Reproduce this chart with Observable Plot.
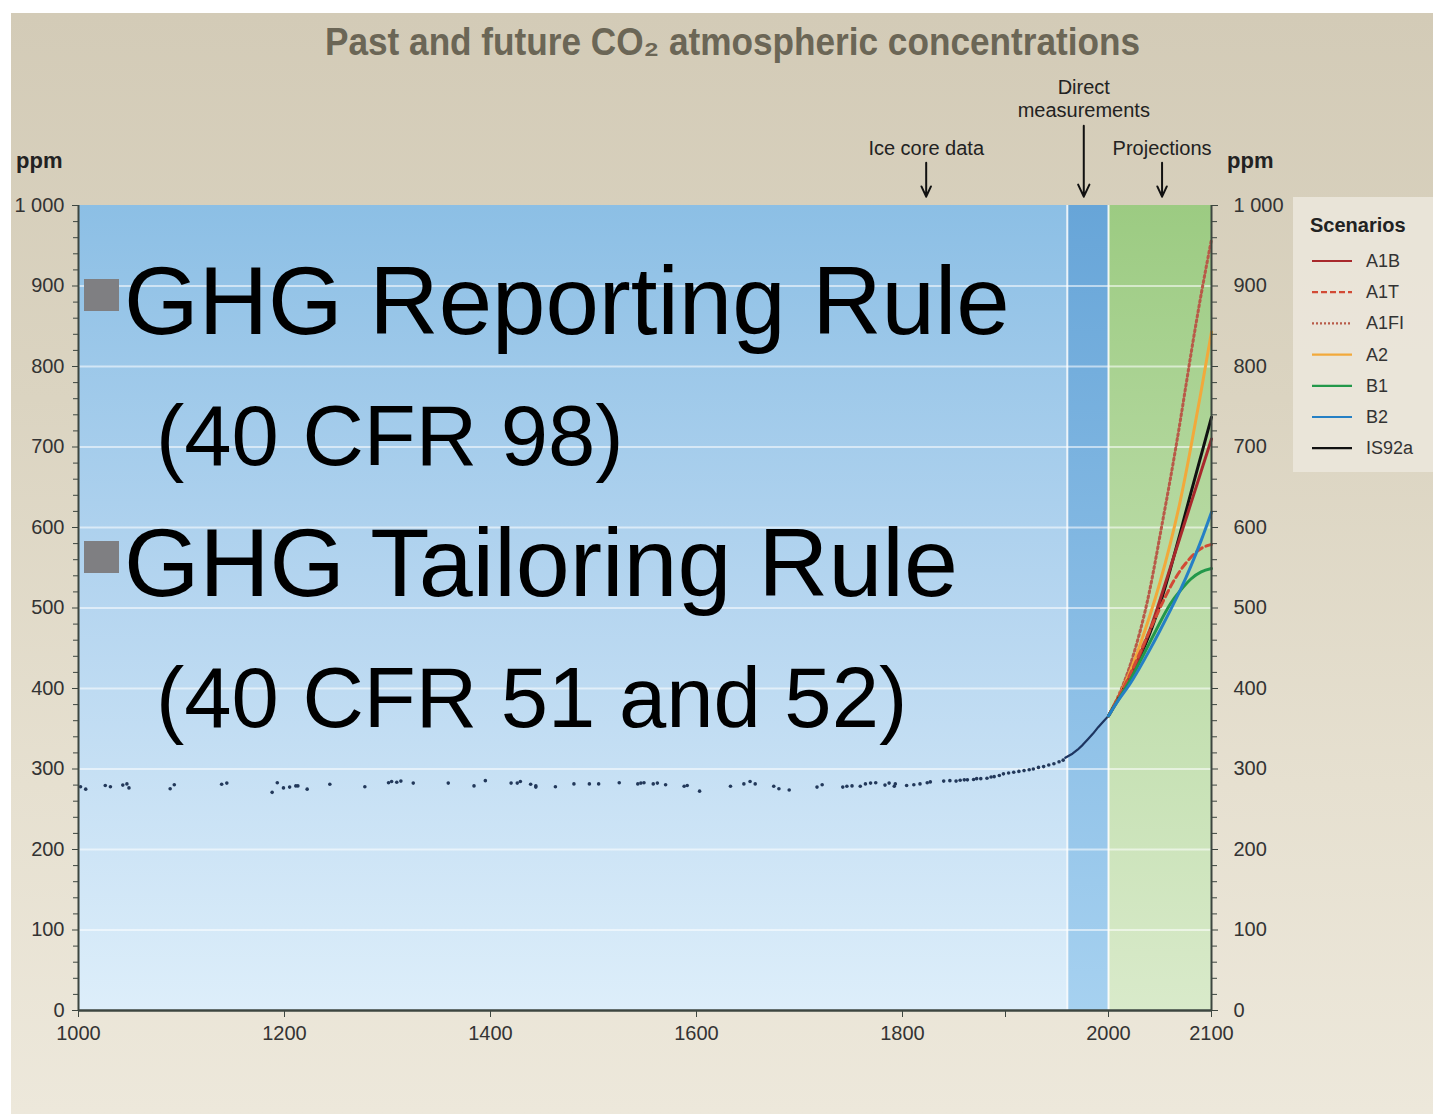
<!DOCTYPE html>
<html>
<head>
<meta charset="utf-8">
<script src="https://cdn.jsdelivr.net/npm/d3@7"></script>
<script src="https://cdn.jsdelivr.net/npm/@observablehq/plot@0.6"></script>
<style>
html,body{margin:0;padding:0;background:#ffffff;}
#page{position:relative;width:1433px;height:1114px;overflow:hidden;}
#bg{position:absolute;left:11px;top:13px;width:1422px;height:1101px;background:linear-gradient(to bottom,#d3cbb7 0%,#dbd4c1 35%,#e6e0d0 70%,#ede8db 100%);}
#chart{position:absolute;left:0;top:0;}
#overlay{position:absolute;left:0;top:0;pointer-events:none;}
</style>
</head>
<body>
<div id="page"><div id="bg"></div><div id="chart"></div><svg id="overlay" width="1433" height="1114"></svg></div>
<script>
// ---------- data ----------
const iceYears = [1002,1007,1026,1031,1043,1047,1049,1089,1093,1139,1144,1188,1193,1199,1205,1211,1213,1222,1244,1278,1301,1304,1309,1313,1325,1359,1384,1395,1420,1426,1429,1439,1444,1444,1463,
  1481,1496,1505,1525,1543,1546,1549,1558,1562,1570,1588,1591,1603,1633,1646,1652,1657,1675,1680,1690,1717,1722,1742,1746,1751,1759,1764,1769,1774,1783,1787,1792,1793,
  1804,1811,1817,1824,1827,1840,1846,1852,1856,1860,1863,1869,1872,1876,1882,1886,1889,1894,1898,1903,1908,1913,1918,1923,1927,1932,1937,1942,1947,1952,1956];
const icePpm = [278,275,279.5,278,280,281.5,276.5,275.5,280.5,281,282.5,271,283,276.5,277.5,279,279,275,281,278,283,284.5,283.5,285,282.5,282.5,279,285.5,282.5,282.5,284.5,281,279,277.5,278,
  281.5,281.5,281.5,283,281.5,282.5,283,281.5,282.5,280.5,278.5,279.5,272.5,278.5,281.5,284.5,281.5,278.5,275.5,274,277.5,280.5,277.5,278.5,279,278.5,281.5,282.5,283,280,282.5,278.5,281.5,
  279.5,280.5,281.5,283,284,285,285.5,285,286,286.5,286.5,287,288,288,288.5,290,290.5,292,294,295,296,297,298,299,300,302,303,305,306.5,309,311];
const directYears = [1958,1965,1970,1975,1980,1985,1990,1995,2000];
const directPpm   = [314,319,324,330,337,344,352,359,366];

const projYears = [2000,2010,2020,2030,2040,2050,2060,2070,2080,2090,2100];
const A1B   = [366,388,412,440,472,510,550,590,630,670,710];
const A1T   = [366,390,415,443,472,500,526,547,563,574,579];
const A1FI  = [366,392,425,468,522,590,660,735,815,890,958];
const A2    = [366,390,418,452,490,532,580,635,700,770,843];
const B1    = [366,387,408,432,457,482,505,522,536,545,549];
const B2    = [366,386,404,425,448,472,497,523,552,584,619];
const IS92a = [366,389,412,438,468,505,548,595,643,690,737];

const scenarioNames  = ["A1FI","A2","IS92a","A1B","A1T","B1","B2"];
const scenarioValues = [A1FI, A2, IS92a, A1B, A1T, B1, B2];
const legendOrder    = ["A1B","A1T","A1FI","A2","B1","B2","IS92a"];
const scenarioColor  = {A1B:"#a8282c", A1T:"#d24a35", A1FI:"#b85a48", A2:"#f2a93b", B1:"#23984a", B2:"#2580c5", IS92a:"#111111"};
const scenarioDash   = {A1B:null, A1T:"7,4", A1FI:"2,3", A2:null, B1:null, B2:null, IS92a:null};

const regionStart = [1000,1960,2000];
const regionEnd   = [1960,2000,2100];
const regionFill  = ["url(#gIce)","url(#gDirect)","url(#gProj)"];

const yMajor  = [0,100,200,300,400,500,600,700,800,900,1000];
const yMinor  = d3.range(20,1000,20).filter(d => d % 100 !== 0);
const xTicks  = [1000,1200,1400,1600,1800,1900,2000,2100];
const xLabels = [1000,1200,1400,1600,1800,2000,2100];
const gridLines = [100,200,300,400,500,600,700,800,900];
const bandEdges = [1960,2000];

const annotText = ["Ice core data","Direct\nmeasurements","Projections"];
const annotYear = [1823,1976,2052];
const annotTextPpm = [1072,1133,1072];
const annotArrowTop = [1053,1099,1053];
const annotArrowEnd = [1011,1011,1011];

// ---------- build ----------
const ice = iceYears.map((y,i) => ({year:y, ppm:icePpm[i]}));
const direct = directYears.map((y,i) => ({year:y, ppm:directPpm[i]}));
const regions = regionStart.map((s,i) => ({start:s, end:regionEnd[i], fill:regionFill[i]}));
const annots = annotText.map((t,i) => ({label:t, year:annotYear[i], ty:annotTextPpm[i], a1:annotArrowTop[i], a2:annotArrowEnd[i]}));
const fmt = d3.formatLocale({decimal:".", thousands:" ", grouping:[3], currency:["",""]}).format(",d");

const scenarioMarks = scenarioNames.map((name,k) => Plot.line(projYears.map((yr,i)=>({year:yr, ppm:scenarioValues[k][i]})), {
  x:"year", y:"ppm", stroke: scenarioColor[name], strokeWidth: 3,
  strokeDasharray: scenarioDash[name] || undefined, curve:"natural"
}));

const axisColor = "#3d4640";
const chart = Plot.plot({
  width: 1433, height: 1114,
  marginLeft: 78, marginRight: 222, marginTop: 205, marginBottom: 104,
  x: {domain:[1000,2100], label:null},
  y: {domain:[0,1000], label:null},
  style: {background:"transparent", fontFamily:'"Liberation Sans", Arial, sans-serif', fontSize:"20px", color:"#333"},
  marks: [
    ...regions.map(r => Plot.rect([r], {x1:"start", x2:"end", y1:0, y2:1000, fill:r.fill})),
    Plot.ruleY(gridLines, {stroke:"white", strokeOpacity:0.55, strokeWidth:2}),
    Plot.ruleX(bandEdges, {y1:0, y2:1000, stroke:"white", strokeOpacity:0.85, strokeWidth:2}),
    Plot.dot(ice, {x:"year", y:"ppm", r:1.8, fill:"#22385a", stroke:null}),
    Plot.line(direct, {x:"year", y:"ppm", stroke:"#1d3561", strokeWidth:2.2}),
    ...scenarioMarks,
    Plot.ruleX([1000,2100], {y1:0, y2:1000, stroke:axisColor, strokeWidth:2}),
    Plot.ruleY([0], {stroke:axisColor, strokeWidth:2.5}),
    Plot.axisY(yMajor, {anchor:"left", tickSize:6, tickPadding:8, tickFormat:fmt, stroke:axisColor, fill:"#333", label:null}),
    Plot.axisY(yMinor, {anchor:"left", tickSize:5, tickFormat:() => "", stroke:axisColor, label:null}),
    Plot.axisY(yMajor, {anchor:"right", tickSize:6, tickPadding:16, tickFormat:fmt, stroke:axisColor, fill:"#333", label:null}),
    Plot.axisY(yMinor, {anchor:"right", tickSize:5, tickFormat:() => "", stroke:axisColor, label:null}),
    Plot.axisX(xTicks, {anchor:"bottom", tickSize:7, tickFormat:() => "", stroke:axisColor, label:null}),
    Plot.axisX(xLabels, {anchor:"bottom", tickSize:0, tickPadding:15, tickFormat:d => String(d), fill:"#333", label:null}),
    Plot.text(annots, {x:"year", y:"ty", text:"label", lineAnchor:"middle", lineHeight:1.15, fontSize:20, fill:"#222"}),
    Plot.arrow(annots, {x:"year", y1:"a1", y2:"a2", stroke:"#111", strokeWidth:2, headLength:10, headAngle:50})
  ]
});
d3.select(chart).insert("defs", ":first-child").html(`
<linearGradient id="gIce" x1="0" y1="0" x2="0" y2="1"><stop offset="0" stop-color="#8cbfe5"/><stop offset="0.5" stop-color="#b6d6f0"/><stop offset="1" stop-color="#ddeefa"/></linearGradient>
<linearGradient id="gDirect" x1="0" y1="0" x2="0" y2="1"><stop offset="0" stop-color="#67a5d8"/><stop offset="1" stop-color="#a6d1f0"/></linearGradient>
<linearGradient id="gProj" x1="0" y1="0" x2="0" y2="1"><stop offset="0" stop-color="#9ccb82"/><stop offset="0.5" stop-color="#bcdca8"/><stop offset="1" stop-color="#d9eaca"/></linearGradient>`);
document.getElementById("chart").appendChild(chart);

// ---------- overlay text (title, units, legend, slide text) ----------
const ov = d3.select("#overlay");
const sans = '"Liberation Sans", Arial, sans-serif';
ov.append("text").attr("x",325).attr("y",55)
  .attr("font-family",sans).attr("font-weight","bold").attr("font-size",38).attr("fill","#6b6656")
  .attr("textLength",815).attr("lengthAdjust","spacingAndGlyphs")
  .text("Past and future CO\u2082 atmospheric concentrations");

ov.append("text").attr("x",16).attr("y",168).attr("font-family",sans).attr("font-weight","bold").attr("font-size",22).attr("fill","#222").text("ppm");
ov.append("text").attr("x",1227).attr("y",168).attr("font-family",sans).attr("font-weight","bold").attr("font-size",22).attr("fill","#222").text("ppm");

// legend
ov.append("rect").attr("x",1293).attr("y",197).attr("width",150).attr("height",275).attr("fill","#ece8dd").attr("opacity",0.85);
ov.append("text").attr("x",1310).attr("y",232).attr("font-family",sans).attr("font-weight","bold").attr("font-size",20).attr("fill","#222").text("Scenarios");
legendOrder.forEach((name,i) => {
  const cy = 260 + i*31.2;
  ov.append("line").attr("x1",1312).attr("x2",1352).attr("y1",cy+1).attr("y2",cy+1)
    .attr("stroke",scenarioColor[name]).attr("stroke-width",2.2)
    .attr("stroke-dasharray",scenarioDash[name] ? (name==="A1FI" ? "2,2" : "6,3") : null);
  ov.append("text").attr("x",1366).attr("y",cy+7).attr("font-family",sans).attr("font-size",18).attr("fill","#333").text(name);
});

// slide text overlay
const slide = [
  {text:"GHG Reporting Rule", x:124, y:334, size:96, bullet:true},
  {text:"(40 CFR 98)", x:156, y:465, size:85, bullet:false},
  {text:"GHG Tailoring Rule", x:124, y:596, size:97, bullet:true},
  {text:"(40 CFR 51 and 52)", x:156, y:727, size:85, bullet:false}
];
slide.forEach(s => {
  if (s.bullet) ov.append("rect").attr("x",84).attr("y",s.y-55).attr("width",35).attr("height",32).attr("fill","#7f7f82");
  ov.append("text").attr("x",s.x).attr("y",s.y).attr("font-family",sans).attr("font-size",s.size).attr("fill","#000").text(s.text);
});
</script>
</body>
</html>
